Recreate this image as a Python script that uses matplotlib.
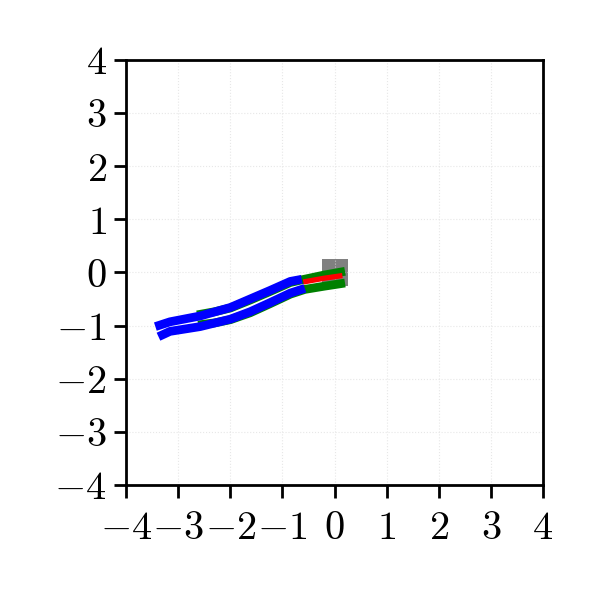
import matplotlib.pyplot as plt

plt.rcParams['mathtext.fontset'] = 'cm'
plt.rcParams['font.family'] = 'serif'
plt.rcParams['font.serif'] = ['DejaVu Serif']

# trajectories
blue_up_x = [-3.44, -3.16, -2.58, -2.00, -1.62, -1.24, -0.85, -0.63]
blue_up_y = [-1.02, -0.93, -0.82, -0.66, -0.50, -0.34, -0.17, -0.13]
blue_lo_x = [-3.38, -3.16, -2.58, -2.00, -1.62, -1.24, -0.85, -0.57]
blue_lo_y = [-1.21, -1.11, -1.02, -0.88, -0.74, -0.57, -0.39, -0.30]
green_up_x = [-2.64, -2.30, -2.00, -1.62, -1.24, -0.85, -0.63, -0.2, 0.2]
green_up_y = [-0.80, -0.74, -0.67, -0.52, -0.36, -0.19, -0.14, -0.05, 0.02]
green_lo_x = [-2.62, -2.30, -2.00, -1.62, -1.24, -0.85, -0.57, -0.2, 0.2]
green_lo_y = [-0.99, -0.95, -0.89, -0.76, -0.59, -0.41, -0.32, -0.26, -0.20]
red_x = [-0.6, -0.2, 0.15]
red_y = [-0.18, -0.11, -0.06]
box_center = (0.0, 0.0)
box_size = 0.5
ticks = [-4, -3, -2, -1, 0, 1, 2, 3, 4]

fig = plt.figure(figsize=(5.98, 5.98), dpi=100)
ax = fig.add_axes([0.211, 0.189, 0.697, 0.711])

ax.add_patch(plt.Rectangle((box_center[0] - box_size / 2, box_center[1] - box_size / 2),
                           box_size, box_size, color='gray', zorder=1, lw=0))
ax.plot(green_up_x, green_up_y, color='green', lw=6.3, solid_capstyle='butt', zorder=2)
ax.plot(green_lo_x, green_lo_y, color='green', lw=6.3, solid_capstyle='butt', zorder=2)
ax.plot(red_x, red_y, color='red', lw=3.8, solid_capstyle='butt', zorder=3)
ax.plot(blue_up_x, blue_up_y, color='blue', lw=6.3, solid_capstyle='butt', zorder=4)
ax.plot(blue_lo_x, blue_lo_y, color='blue', lw=6.3, solid_capstyle='butt', zorder=4)

ax.set_xlim(-4, 4)
ax.set_ylim(-4, 4)
ax.set_xticks(ticks)
ax.set_yticks(ticks)
ax.set_xticklabels([r'$%d$' % t for t in ticks], fontsize=29)
ax.set_yticklabels([r'$%d$' % t for t in ticks], fontsize=29)
ax.tick_params(direction='out', length=9, width=2, pad=5)
ax.tick_params(axis='x', pad=9)
for s in ax.spines.values():
    s.set_linewidth(2)
ax.set_axisbelow('line')
ax.grid(True, color='#dddddd', lw=0.8, ls=':', alpha=0.7)

plt.savefig('out.png', dpi=100)
